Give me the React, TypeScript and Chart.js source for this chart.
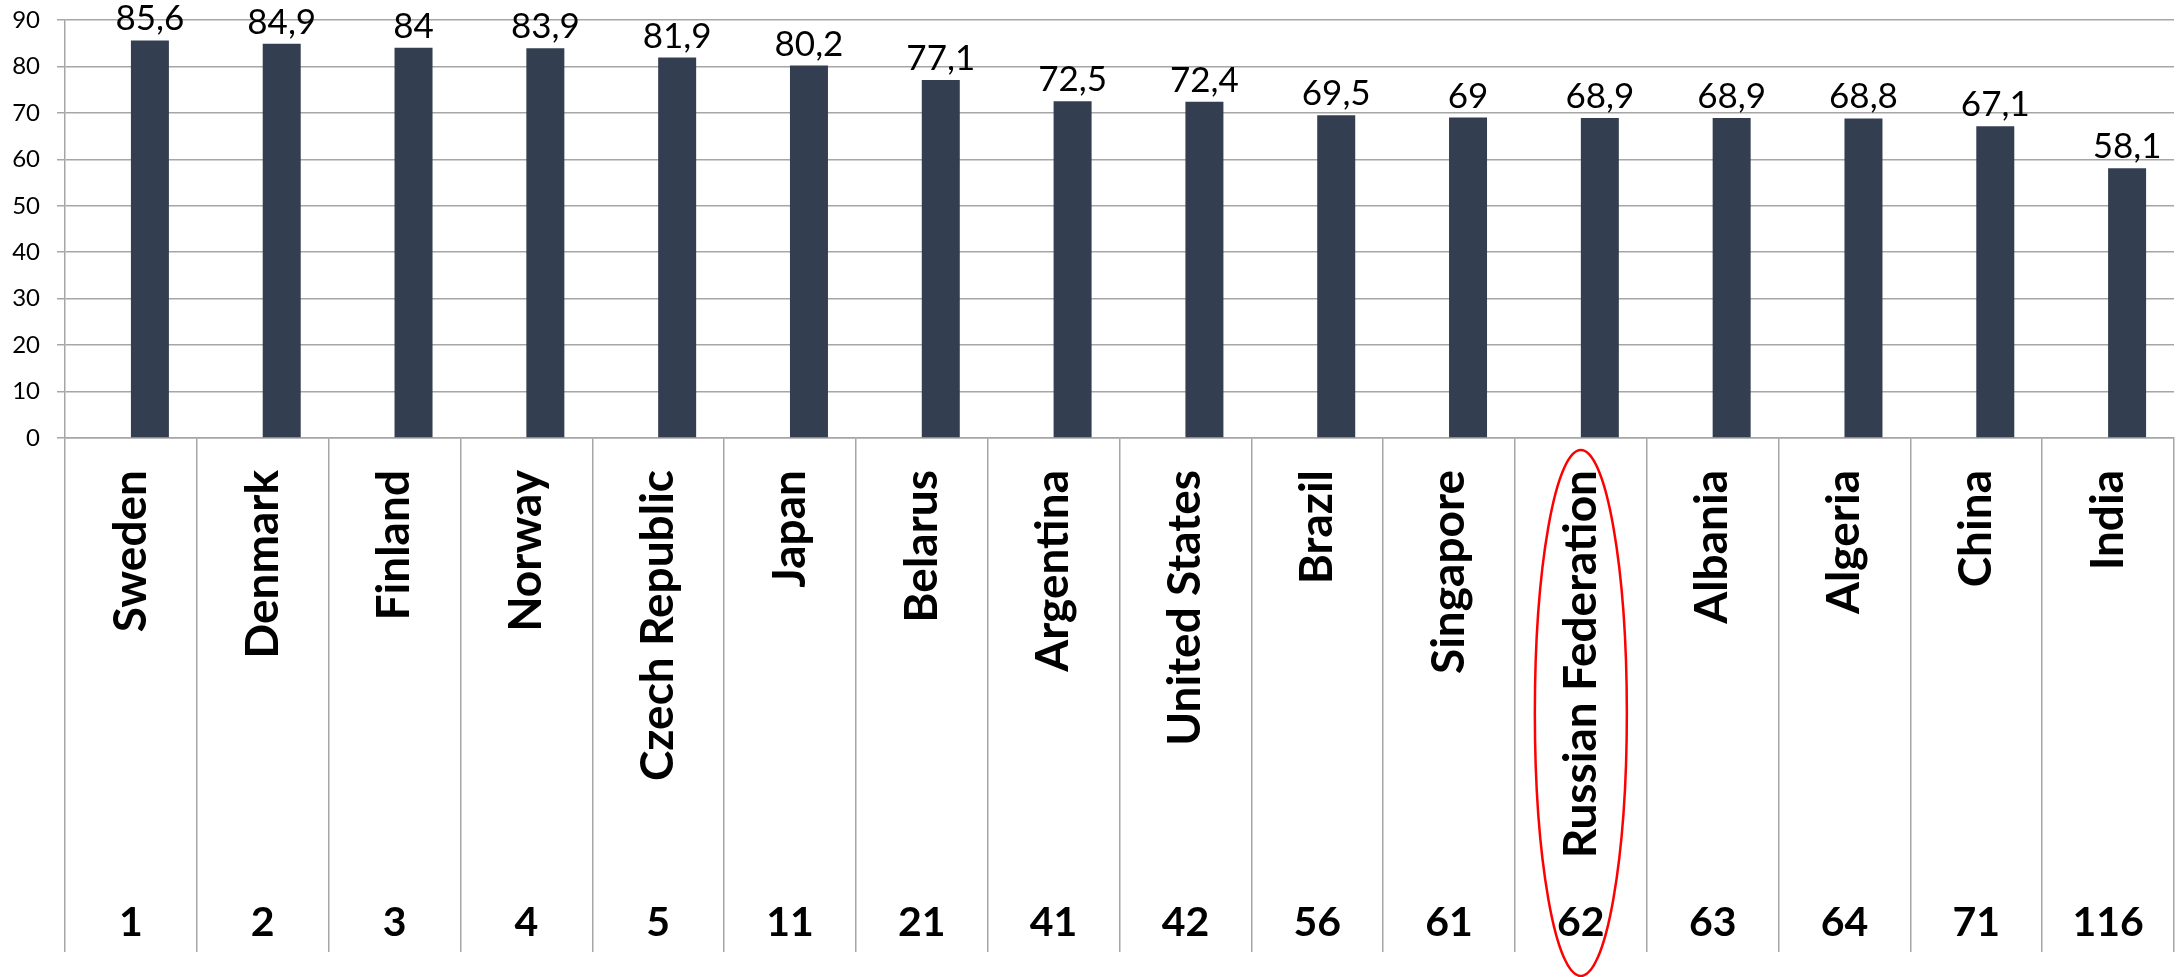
import React, { useEffect, useRef } from 'react';
import { Chart, registerables } from 'chart.js';

Chart.register(...registerables);

const countries = [
  'Sweden', 'Denmark', 'Finland', 'Norway', 'Czech Republic', 'Japan', 'Belarus', 'Argentina',
  'United States', 'Brazil', 'Singapore', 'Russian Federation', 'Albania', 'Algeria', 'China', 'India',
];
const ranks = ['1', '2', '3', '4', '5', '11', '21', '41', '42', '56', '61', '62', '63', '64', '71', '116'];
const values = [85.6, 84.9, 84, 83.9, 81.9, 80.2, 77.1, 72.5, 72.4, 69.5, 69, 68.9, 68.9, 68.8, 67.1, 58.1];
const emptySeries = [null, null, null, null, null, null, null, null, null, null, null, null, null, null, null, null];
const yMin = 0;
const yMax = 90;
const yStep = 10;
const highlighted = 'Russian Federation';

const FONT = "Lato, 'Open Sans', sans-serif";
const GRID = '#a6a6a6';
const BAR = '#333f50';

const valueLabels = {
  id: 'valueLabels',
  afterDatasetsDraw(chart: any) {
    const meta = chart.getDatasetMeta(1);
    const data = chart.data.datasets[1].data;
    const ctx = chart.ctx;
    ctx.save();
    ctx.font = `35px ${FONT}`;
    ctx.fillStyle = '#000';
    ctx.textAlign = 'center';
    ctx.textBaseline = 'alphabetic';
    meta.data.forEach((bar: any, i: number) => {
      ctx.fillText(String(data[i]).replace('.', ','), bar.x, bar.y - 10);
    });
    ctx.restore();
  },
};

const highlight = {
  id: 'highlight',
  afterDraw(chart: any) {
    const x = chart.scales.x;
    const x2 = chart.scales.x2;
    const idx = countries.indexOf(highlighted);
    const cx = x.getPixelForValue(idx);
    const top = x.top + 12;
    const bottom = x2.bottom - 1;
    const ctx = chart.ctx;
    ctx.save();
    ctx.beginPath();
    ctx.ellipse(cx, (top + bottom) / 2, 46, (bottom - top) / 2, 0, 0, Math.PI * 2);
    ctx.strokeStyle = '#ff0000';
    ctx.lineWidth = 2.5;
    ctx.stroke();
    ctx.restore();
  },
};

export default function App() {
  const canvasRef = useRef<HTMLCanvasElement | null>(null);

  useEffect(() => {
    document.body.style.margin = '0';
    document.body.style.overflow = 'hidden';
    const canvas = canvasRef.current;
    if (!canvas) return;
    const chart = new Chart(canvas, {
      type: 'bar',
      data: {
        labels: countries,
        datasets: [
          { data: emptySeries as any, backgroundColor: BAR, xAxisID: 'x' },
          { data: values, backgroundColor: BAR, xAxisID: 'x' },
        ],
      },
      options: {
        animation: false,
        responsive: true,
        maintainAspectRatio: false,
        devicePixelRatio: 1,
        layout: { padding: { top: 20, right: 8, left: 0, bottom: 0 } },
        plugins: { legend: { display: false }, tooltip: { enabled: false } },
        datasets: { bar: { categoryPercentage: 0.5766, barPercentage: 1 } },
        scales: {
          x: {
            type: 'category',
            position: 'bottom',
            offset: true,
            grid: { offset: true, drawOnChartArea: false, drawTicks: true, tickLength: 424, color: GRID, lineWidth: 1.5 },
            border: { display: true, color: GRID, width: 1.5 },
            ticks: {
              autoSkip: false,
              minRotation: 90,
              maxRotation: 90,
              padding: -392,
              color: '#000',
              font: { family: FONT, size: 46, weight: 'bold' },
            },
            afterFit(scale: any) { scale.height = 424; },
          },
          x2: {
            type: 'category',
            position: 'bottom',
            labels: ranks,
            offset: true,
            grid: { offset: true, drawOnChartArea: false, drawTicks: true, tickLength: 90, color: GRID, lineWidth: 1.5 },
            border: { display: false },
            ticks: {
              autoSkip: false,
              maxRotation: 0,
              minRotation: 0,
              padding: -54,
              color: '#000',
              font: { family: FONT, size: 41, weight: 'bold' },
            },
            afterFit(scale: any) { scale.height = 115; },
          },
          y: {
            min: yMin,
            max: yMax,
            ticks: { stepSize: yStep, padding: 17, color: '#000', font: { family: FONT, size: 24 } },
            grid: { color: GRID, tickLength: 8, lineWidth: 1.5 },
            border: { color: GRID, width: 1.5 },
            afterFit(scale: any) {
              scale.width = 65;
              scale.paddingTop = 0;
              scale.paddingBottom = 0;
            },
          },
        },
      } as any,
      plugins: [valueLabels, highlight],
    });
    return () => chart.destroy();
  }, []);

  return (
    <div style={{ width: 2182, height: 977, position: 'relative' }}>
      <canvas ref={canvasRef} />
    </div>
  );
}
